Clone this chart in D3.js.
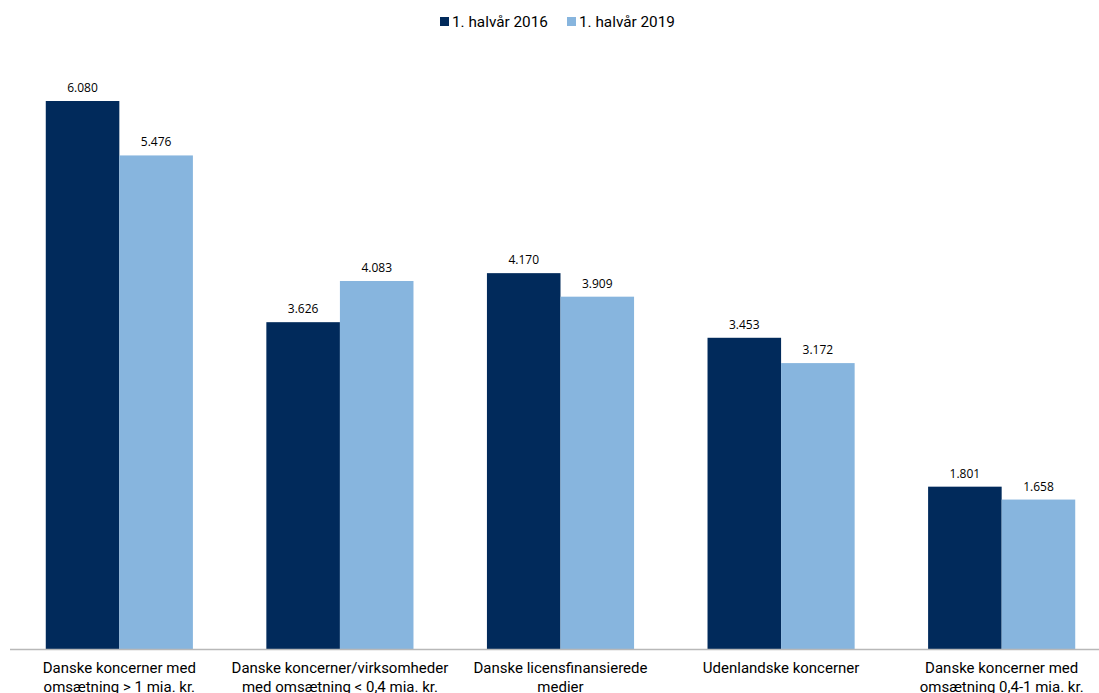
<!DOCTYPE html>
<html>
<head>
<meta charset="utf-8">
<script src="https://cdn.jsdelivr.net/npm/d3@7"></script>
<style>
  html, body { margin: 0; padding: 0; background: #fff; }
  svg { display: block; }
</style>
</head>
<body>
<svg id="chart" width="1099" height="693"></svg>
<script>
const categories = [
  ["Danske koncerner med", "omsætning > 1 mia. kr."],
  ["Danske koncerner/virksomheder", "med omsætning < 0,4 mia. kr."],
  ["Danske licensfinansierede", "medier"],
  ["Udenlandske koncerner"],
  ["Danske koncerner med", "omsætning 0,4-1 mia. kr."]
];
const seriesNames = ["1. halvår 2016", "1. halvår 2019"];
const values2016 = [6080, 3626, 4170, 3453, 1801];
const values2019 = [5476, 4083, 3909, 3172, 1658];
const colors = ["#012a5b", "#87b5de"];

const svg = d3.select("#chart");
const baseY = 649;
const fmt = v => d3.format(",")(v).replace(/,/g, ".");

const x0 = d3.scaleBand()
  .domain(d3.range(categories.length))
  .range([9, 1112])
  .paddingInner(0.333)
  .paddingOuter(0.1667);
const x1 = d3.scaleBand()
  .domain([0, 1])
  .range([0, x0.bandwidth()]);
const y = d3.scaleLinear().domain([0, 6080]).range([baseY, 101]);

const series = [values2016, values2019];

series.forEach((vals, s) => {
  const g = svg.append("g");
  g.selectAll("rect").data(vals).join("rect")
    .attr("x", (d, i) => x0(i) + x1(s))
    .attr("y", d => y(d))
    .attr("width", x1.bandwidth())
    .attr("height", d => baseY - y(d))
    .attr("fill", colors[s]);
  g.selectAll("text").data(vals).join("text")
    .attr("x", (d, i) => x0(i) + x1(s) + x1.bandwidth() / 2)
    .attr("y", d => y(d) - 9)
    .attr("text-anchor", "middle")
    .attr("font-family", "Open Sans, sans-serif")
    .attr("font-size", 12)
    .attr("fill", "#000")
    .text(d => fmt(d));
});

// baseline
svg.append("line")
  .attr("x1", 10).attr("x2", 1099)
  .attr("y1", baseY + 0.5).attr("y2", baseY + 0.5)
  .attr("stroke", "#b8b8b8").attr("stroke-width", 1.5);

// category labels (second line runs past the bottom edge)
const catG = svg.append("g");
categories.forEach((lines, i) => {
  const t = catG.append("text")
    .attr("x", x0(i) + x0.bandwidth() / 2)
    .attr("y", 673)
    .attr("text-anchor", "middle")
    .attr("font-family", "Roboto, sans-serif")
    .attr("font-size", 15)
    .attr("fill", "#000");
  lines.forEach((ln, j) => {
    t.append("tspan")
      .attr("x", x0(i) + x0.bandwidth() / 2)
      .attr("dy", j === 0 ? 0 : 19)
      .text(ln);
  });
});

// legend
const legend = svg.append("g");
const legendX = [440, 567];
seriesNames.forEach((name, s) => {
  legend.append("rect")
    .attr("x", legendX[s]).attr("y", 17)
    .attr("width", 9).attr("height", 9)
    .attr("fill", colors[s]);
  legend.append("text")
    .attr("x", legendX[s] + 12).attr("y", 27)
    .attr("font-family", "Roboto, sans-serif")
    .attr("font-size", 15.3)
    .attr("fill", "#000")
    .text(name);
});
</script>
</body>
</html>
